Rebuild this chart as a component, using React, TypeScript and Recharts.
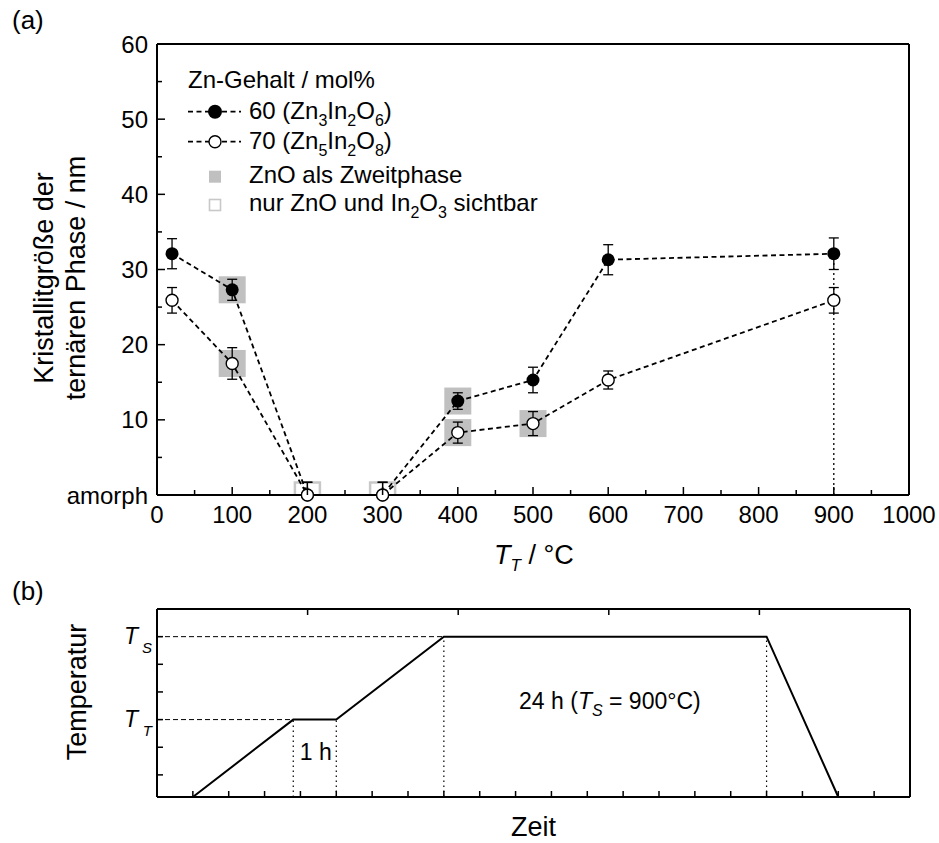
import React from 'react'
import {
  ComposedChart,
  LineChart,
  Line,
  Scatter,
  XAxis,
  YAxis,
  ErrorBar,
  ReferenceLine,
  ReferenceDot,
  Legend,
} from 'recharts'

const FONT = '"Liberation Sans", Arial, Helvetica, sans-serif'
const BLACK = '#000'
const GREY = '#c0c0c0'

// (a) Kristallitgröße der ternären Phase
const temps = [20, 100, 200, 300, 400, 500, 600, 900]
const size60 = [32.1, 27.3, 0, 0, 12.5, 15.3, 31.3, 32.1]
const err60 = [2.0, 1.4, 1.7, 1.7, 1.1, 1.7, 2.0, 2.1]
const size70 = [25.9, 17.5, 0, 0, 8.3, 9.5, 15.3, 25.9]
const err70 = [1.7, 2.1, 1.7, 1.7, 1.4, 1.6, 1.2, 1.7]

// ZnO als Zweitphase (grey squares)
const secondPhaseT = [100, 100, 400, 400, 500]
const secondPhaseSize = [27.3, 17.5, 12.5, 8.3, 9.5]
// nur ZnO und In2O3 sichtbar (hollow squares)
const binaryT = [200, 300]
const binarySize = [0, 0]

const sizeXTicks = [0, 50, 100, 150, 200, 250, 300, 350, 400, 450, 500, 550, 600, 650, 700, 750, 800, 850, 900, 950, 1000]
const sizeYTicks = [0, 5, 10, 15, 20, 25, 30, 35, 40, 45, 50, 55, 60]

// (b) Temperaturprogramm
const profileTime = [1, 3.8, 5, 8, 17, 19]
const profileTemp = [0, 2.8, 2.8, 5.8, 5.8, 0]
const levelT = 2.8
const levelS = 5.8
const timeTicks = [0, 1, 2, 3, 4, 5, 6, 7, 8, 9, 10, 11, 12, 13, 14, 15, 16, 17, 18, 19, 20, 21]
const tempTicks = [0.8, 1.8, 2.8, 3.8, 4.8, 5.8]

const sizeRows = temps.map((t, i) => ({
  t,
  v60: size60[i],
  e60: size60[i] === 0 ? [0, err60[i]] : err60[i],
  v70: size70[i],
  e70: size70[i] === 0 ? [0, err70[i]] : err70[i],
}))
const secondPhaseRows = secondPhaseT.map((t, i) => ({ t, y: secondPhaseSize[i] }))
const binaryRows = binaryT.map((t, i) => ({ t, y: binarySize[i] }))
const profileRows = profileTime.map((t, i) => ({ t, temp: profileTemp[i] }))

const near = (v: number, step: number) => Math.abs(v / step - Math.round(v / step)) < 1e-6

// ---------- ticks (all pointing inwards) ----------
function SizeBottomTick(props: any) {
  const { x, y, payload } = props
  const major = near(payload.value, 100)
  return (
    <g>
      <line x1={x} x2={x} y1={y} y2={y - (major ? 8 : 5)} stroke={BLACK} strokeWidth={1.5} />
      {major && (
        <text x={x} y={y + 28} textAnchor="middle" fontSize={24} fill={BLACK}>
          {payload.value}
        </text>
      )}
    </g>
  )
}

function SizeTopTick(props: any) {
  const { x, y, payload } = props
  const major = near(payload.value, 100)
  return <line x1={x} x2={x} y1={y} y2={y + (major ? 8 : 5)} stroke={BLACK} strokeWidth={1.5} />
}

function SizeLeftTick(props: any) {
  const { x, y, payload } = props
  const major = near(payload.value, 10)
  return (
    <g>
      <line x1={x} x2={x + (major ? 8 : 5)} y1={y} y2={y} stroke={BLACK} strokeWidth={1.5} />
      {major && (
        <text x={x - 9} y={y + 8.5} textAnchor="end" fontSize={24} fill={BLACK}>
          {payload.value === 0 ? 'amorph' : payload.value}
        </text>
      )}
    </g>
  )
}

function SizeRightTick(props: any) {
  const { x, y, payload } = props
  const major = near(payload.value, 10)
  return <line x1={x} x2={x - (major ? 8 : 5)} y1={y} y2={y} stroke={BLACK} strokeWidth={1.5} />
}

function TimeBottomTick(props: any) {
  const { x, y } = props
  return <line x1={x} x2={x} y1={y} y2={y - 6} stroke={BLACK} strokeWidth={1.5} />
}

function TimeTopTick(props: any) {
  const { x, y } = props
  return <line x1={x} x2={x} y1={y} y2={y + 6} stroke={BLACK} strokeWidth={1.5} />
}

function TempLeftTick(props: any) {
  const { x, y, payload } = props
  const v = payload.value
  const sub = Math.abs(v - levelS) < 1e-6 ? 'S' : Math.abs(v - levelT) < 1e-6 ? 'T' : null
  return (
    <g>
      <line x1={x} x2={x + 6} y1={y} y2={y} stroke={BLACK} strokeWidth={1.5} />
      {sub && (
        <text x={x - 19} y={y + 7} textAnchor="end" fontSize={23} fill={BLACK} fontStyle="italic">
          T
          <tspan x={x - 5} dy={9} fontSize={15} textAnchor="end">
            {sub}
          </tspan>
        </text>
      )}
    </g>
  )
}

function TempRightTick(props: any) {
  const { x, y } = props
  return <line x1={x} x2={x - 6} y1={y} y2={y} stroke={BLACK} strokeWidth={1.5} />
}

// ---------- marks ----------
function FilledDot(props: any) {
  const { cx, cy, index } = props
  if (cx == null || cy == null) return <g key={index} />
  return <circle key={index} cx={cx} cy={cy} r={6.5} fill={BLACK} />
}

function OpenDot(props: any) {
  const { cx, cy, index } = props
  if (cx == null || cy == null) return <g key={index} />
  return <circle key={index} cx={cx} cy={cy} r={6} fill="#fff" stroke={BLACK} strokeWidth={1.4} />
}

function GreySquare(props: any) {
  const { cx, cy } = props
  return <rect x={cx - 13.5} y={cy - 13.5} width={27} height={27} fill={GREY} />
}

// hollow squares sit on the axis, only the upper half is visible
function HollowSquare(props: any) {
  const { cx, cy } = props
  return (
    <path
      d={`M${cx - 12.5},${cy} V${cy - 12.5} H${cx + 12.5} V${cy}`}
      fill="none"
      stroke="#c8c8c8"
      strokeWidth={2.5}
    />
  )
}

// ---------- legend ----------
function SizeLegend() {
  const ox = 180
  const oy = 60
  const sub = (s: string) => (
    <tspan fontSize={16} dy={7}>
      {s}
    </tspan>
  )
  const up = (s: string) => <tspan dy={-7}>{s}</tspan>
  return (
    <svg width={420} height={170} style={{ fontFamily: FONT }}>
      <g transform={`translate(${-ox},${-oy})`} fontSize={24} fill={BLACK}>
        <text x={188} y={88}>Zn-Gehalt / mol%</text>

        <line x1={188} x2={241} y1={111.7} y2={111.7} stroke={BLACK} strokeWidth={1.8} strokeDasharray="5 3.5" />
        <circle cx={215} cy={111.7} r={7} fill={BLACK} />
        <text x={249} y={119.3}>
          60 (Zn{sub('3')}
          {up('In')}
          {sub('2')}
          {up('O')}
          {sub('6')}
          {up(')')}
        </text>

        <line x1={188} x2={241} y1={141.7} y2={141.7} stroke={BLACK} strokeWidth={1.8} strokeDasharray="5 3.5" />
        <circle cx={215} cy={141.7} r={6} fill="#fff" stroke={BLACK} strokeWidth={1.4} />
        <text x={249} y={149.3}>
          70 (Zn{sub('5')}
          {up('In')}
          {sub('2')}
          {up('O')}
          {sub('8')}
          {up(')')}
        </text>

        <rect x={209} y={170.7} width={12} height={12} fill={GREY} />
        <text x={249} y={183}>ZnO als Zweitphase</text>

        <rect x={209.5} y={199.5} width={11} height={11} fill="none" stroke="#c8c8c8" strokeWidth={1.6} />
        <text x={249} y={211}>
          nur ZnO und In{sub('2')}
          {up('O')}
          {sub('3')}
          {up(' sichtbar')}
        </text>
      </g>
    </svg>
  )
}

export default function App() {
  return (
    <div
      style={{
        position: 'absolute',
        left: 0,
        top: 0,
        width: 939,
        height: 843,
        background: '#fff',
        fontFamily: FONT,
        overflow: 'hidden',
      }}
    >
      <svg width={939} height={843} style={{ position: 'absolute', left: 0, top: 0 }}>
        <text x={12} y={29} fontSize={26} fill={BLACK}>
          (a)
        </text>
        <text x={12} y={600} fontSize={26} fill={BLACK}>
          (b)
        </text>
      </svg>

      <div style={{ position: 'absolute', left: 0, top: 0 }}>
        <ComposedChart
          width={939}
          height={580}
          data={sizeRows}
          margin={{ top: 34, right: 20, bottom: 45, left: 57 }}
        >
          <XAxis
            dataKey="t"
            type="number"
            domain={[0, 1000]}
            ticks={sizeXTicks}
            interval={0}
            tickSize={0}
            tickMargin={0}
            height={40}
            tick={SizeBottomTick}
            axisLine={{ stroke: BLACK, strokeWidth: 2 }}
            label={(p: any) => {
              const vb = p.viewBox || { x: 157, width: 752 }
              const cx = vb.x + vb.width / 2
              return (
                <text x={cx - 39} y={564} fontSize={27} fill={BLACK}>
                  <tspan fontStyle="italic">T</tspan>
                  <tspan fontStyle="italic" fontSize={17} dy={7}>
                    T
                  </tspan>
                  <tspan dy={-7}> / °C</tspan>
                </text>
              )
            }}
          />
          <XAxis
            xAxisId="top"
            orientation="top"
            type="number"
            domain={[0, 1000]}
            ticks={sizeXTicks}
            interval={0}
            tickSize={0}
            tickMargin={0}
            height={10}
            tick={SizeTopTick}
            axisLine={{ stroke: BLACK, strokeWidth: 2 }}
          />
          <YAxis
            type="number"
            domain={[0, 60]}
            ticks={sizeYTicks}
            interval={0}
            tickSize={0}
            tickMargin={0}
            width={100}
            tick={SizeLeftTick}
            axisLine={{ stroke: BLACK, strokeWidth: 2 }}
            label={() => (
              <text transform="translate(53,278) rotate(-90)" textAnchor="middle" fontSize={27} fill={BLACK}>
                <tspan x={0} y={0}>
                  Kristallitgröße der
                </tspan>
                <tspan x={0} y={32}>
                  ternären Phase / nm
                </tspan>
              </text>
            )}
          />
          <YAxis
            yAxisId="right"
            orientation="right"
            type="number"
            domain={[0, 60]}
            ticks={sizeYTicks}
            interval={0}
            tickSize={0}
            tickMargin={0}
            width={10}
            tick={SizeRightTick}
            axisLine={{ stroke: BLACK, strokeWidth: 2 }}
          />

          <Scatter
            data={secondPhaseRows}
            dataKey="y"
            shape={GreySquare}
            isAnimationActive={false}
            zIndex={350}
          />
          <Scatter
            data={binaryRows}
            dataKey="y"
            shape={HollowSquare}
            isAnimationActive={false}
            zIndex={350}
          />

          <ReferenceLine
            segment={[
              { x: 900, y: 0 },
              { x: 900, y: size60[7] },
            ]}
            stroke={BLACK}
            strokeWidth={1.3}
            strokeDasharray="2 3"
          />

          <Line
            dataKey="v60"
            stroke={BLACK}
            strokeWidth={1.8}
            strokeDasharray="5 3.5"
            dot={FilledDot}
            activeDot={false}
            isAnimationActive={false}
          >
            <ErrorBar dataKey="e60" width={5} stroke={BLACK} strokeWidth={1.3} />
          </Line>
          <Line
            dataKey="v70"
            stroke={BLACK}
            strokeWidth={1.8}
            strokeDasharray="5 3.5"
            dot={OpenDot}
            activeDot={false}
            isAnimationActive={false}
          >
            <ErrorBar dataKey="e70" width={5} stroke={BLACK} strokeWidth={1.3} />
          </Line>

          <Legend
            content={SizeLegend}
            layout="vertical"
            align="center"
            verticalAlign="middle"
            wrapperStyle={{ position: 'absolute', left: 180, top: 60, width: 420, height: 170 }}
          />
        </ComposedChart>
      </div>

      <div style={{ position: 'absolute', left: 0, top: 570 }}>
        <LineChart
          width={939}
          height={273}
          data={profileRows}
          margin={{ top: 29, right: 19, bottom: 16, left: 57 }}
        >
          <XAxis
            dataKey="t"
            type="number"
            domain={[0, 21]}
            ticks={timeTicks}
            interval={0}
            tickSize={0}
            tickMargin={0}
            height={30}
            tick={TimeBottomTick}
            axisLine={{ stroke: BLACK, strokeWidth: 2 }}
            label={(p: any) => {
              const vb = p.viewBox || { x: 157, width: 753 }
              return (
                <text x={vb.x + vb.width / 2} y={266} textAnchor="middle" fontSize={27} fill={BLACK}>
                  Zeit
                </text>
              )
            }}
          />
          <XAxis
            xAxisId="top"
            orientation="top"
            type="number"
            domain={[0, 21]}
            ticks={timeTicks}
            interval={0}
            tickSize={0}
            tickMargin={0}
            height={10}
            tick={TimeTopTick}
            axisLine={{ stroke: BLACK, strokeWidth: 2 }}
          />
          <YAxis
            type="number"
            domain={[0, 6.8]}
            ticks={tempTicks}
            interval={0}
            tickSize={0}
            tickMargin={0}
            width={100}
            tick={TempLeftTick}
            axisLine={{ stroke: BLACK, strokeWidth: 2 }}
            label={() => (
              <text transform="translate(86,122) rotate(-90)" textAnchor="middle" fontSize={27} fill={BLACK}>
                Temperatur
              </text>
            )}
          />
          <YAxis
            yAxisId="right"
            orientation="right"
            type="number"
            domain={[0, 6.8]}
            ticks={tempTicks}
            interval={0}
            tickSize={0}
            tickMargin={0}
            width={10}
            tick={TempRightTick}
            axisLine={{ stroke: BLACK, strokeWidth: 2 }}
          />

          <ReferenceLine
            segment={[
              { x: 0, y: levelT },
              { x: profileTime[1], y: levelT },
            ]}
            stroke={BLACK}
            strokeWidth={1}
            strokeDasharray="5 3"
          />
          <ReferenceLine
            segment={[
              { x: 0, y: levelS },
              { x: profileTime[3], y: levelS },
            ]}
            stroke={BLACK}
            strokeWidth={1}
            strokeDasharray="5 3"
          />
          {[1, 2, 3, 4].map((i) => (
            <ReferenceLine
              key={i}
              segment={[
                { x: profileTime[i], y: 0 },
                { x: profileTime[i], y: profileTemp[i] },
              ]}
              stroke={BLACK}
              strokeWidth={1.2}
              strokeDasharray="1.5 3.5"
            />
          ))}

          <Line
            dataKey="temp"
            stroke={BLACK}
            strokeWidth={2}
            dot={false}
            activeDot={false}
            isAnimationActive={false}
          />

          <ReferenceDot
            x={4.43}
            y={1.35}
            r={1}
            shape={(p: any) => (
              <text x={p.cx} y={p.cy} textAnchor="middle" fontSize={23} fill={BLACK}>
                1 h
              </text>
            )}
          />
          <ReferenceDot
            x={12.63}
            y={3.19}
            r={1}
            shape={(p: any) => (
              <text x={p.cx} y={p.cy} textAnchor="middle" fontSize={23} fill={BLACK}>
                24 h (<tspan fontStyle="italic">T</tspan>
                <tspan fontStyle="italic" fontSize={16} dy={7}>
                  S
                </tspan>
                <tspan dy={-7}> = 900°C)</tspan>
              </text>
            )}
          />
        </LineChart>
      </div>
    </div>
  )
}
